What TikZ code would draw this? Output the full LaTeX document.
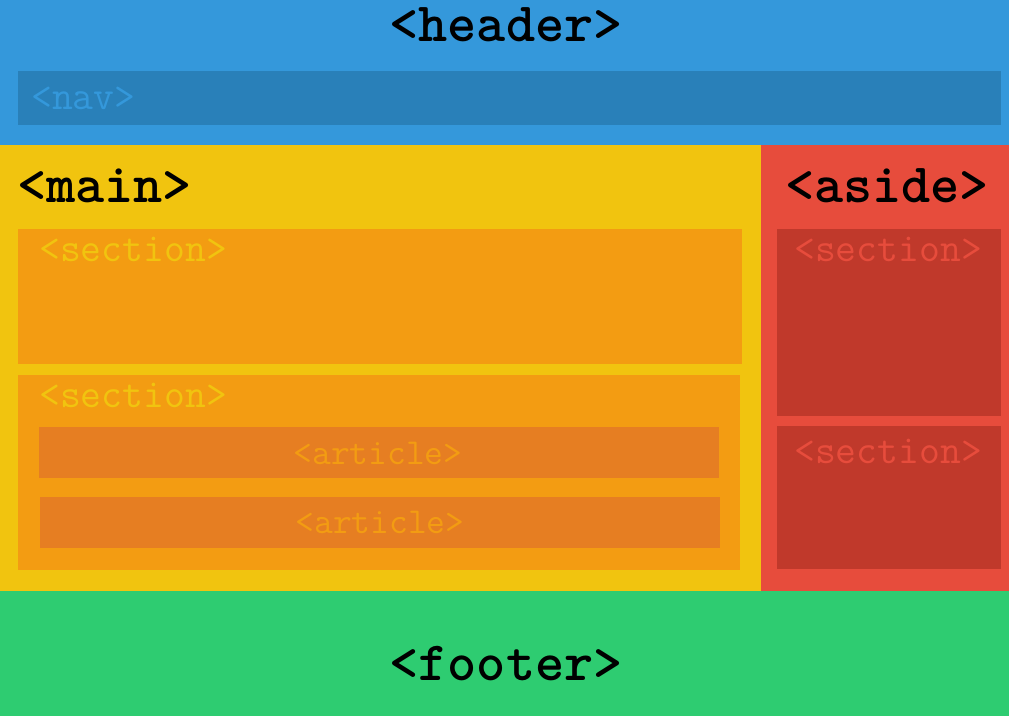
\documentclass[tikz,border=0pt]{standalone}
\usepackage{fontspec}
\definecolor{hdr}{HTML}{3498DB}
\definecolor{navc}{HTML}{2980B9}
\definecolor{mainc}{HTML}{F1C40F}
\definecolor{secc}{HTML}{F39C12}
\definecolor{artc}{HTML}{E67E22}
\definecolor{asidec}{HTML}{E74C3C}
\definecolor{asec}{HTML}{C0392B}
\definecolor{footc}{HTML}{2ECC71}
\begin{document}
\begin{tikzpicture}[x=1pt,y=-1pt,
  big/.style={font=\ttfamily\bfseries\fontsize{55.5}{55.5}\selectfont,text=black,inner sep=0pt},
  small/.style={font=\ttfamily\fontsize{40.5}{40.5}\selectfont,inner sep=0pt}]
\useasboundingbox (0,0) rectangle (1009,716);
% regions
\fill[hdr] (0,0) rectangle (1009,145);
\fill[mainc] (0,145) rectangle (761,591);
\fill[asidec] (761,145) rectangle (1009,591);
\fill[footc] (0,591) rectangle (1009,716);
% inner boxes
\fill[navc] (18,71) rectangle (1001,125);
\fill[secc] (18,229) rectangle (742,364);
\fill[secc] (18,375) rectangle (740,570);
\fill[artc] (39,427) rectangle (719,478);
\fill[artc] (40,497) rectangle (720,548);
\fill[asec] (777,229) rectangle (1001,416);
\fill[asec] (777,426) rectangle (1001,569);
% labels
\node[big] (header) at (506,25) {<header>};
\node[big,anchor=west] (main) at (17,186) {<main>};
\node[big] (aside) at (887,186) {<aside>};
\node[big] (footer) at (506,664) {<footer>};
\node[small,anchor=west,text=hdr] (nav) at (31,98) {<nav>};
\node[small,anchor=west,text=mainc] (sec1) at (39,249) {<section>};
\node[small,anchor=west,text=mainc] (sec2) at (39,395) {<section>};
\node[small,text=secc,font=\ttfamily\fontsize{36.5}{36.5}\selectfont] (art1) at (378,453) {<article>};
\node[small,text=secc,font=\ttfamily\fontsize{36.5}{36.5}\selectfont] (art2) at (380,522) {<article>};
\node[small,text=asidec] (asec1) at (888,249) {<section>};
\node[small,text=asidec] (asec2) at (888,451) {<section>};
\end{tikzpicture}
\end{document}
